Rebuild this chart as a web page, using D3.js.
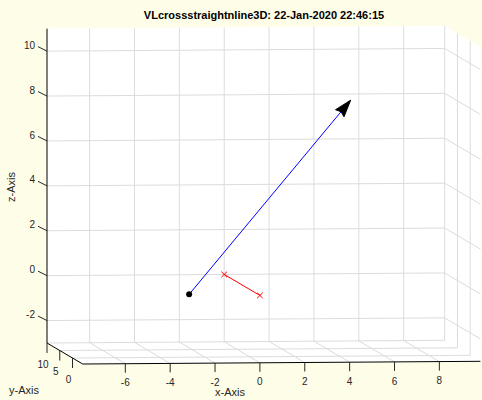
<!DOCTYPE html>
<html>
<head>
<meta charset="utf-8">
<script src="https://cdn.jsdelivr.net/npm/d3@7"></script>
<style>
  body { margin: 0; background: #fefde8; }
  text { font-family: "Liberation Sans", Arial, sans-serif; fill: #262626; }
</style>
</head>
<body>
<div id="chart"></div>
<script>
// axis limits and ticks
const xLim = [-7.9, 9.83];
const yLim = [-4, 10];
const zLim = [-3, 11];
const xTicks = [-6, -4, -2, 0, 2, 4, 6, 8];
const xTickLabels = ["-6", "-4", "-2", "0", "2", "4", "6", "8"];
const yTicks = [0, 5, 10];
const yTickLabels = ["0", "5", "10"];
const zTicks = [-2, 0, 2, 4, 6, 8, 10];
const zTickLabels = ["-2", "0", "2", "4", "6", "8", "10"];

// data (x, y, z)
const vecStart = [-2.7, 0, -0.2];
const vecEnd = [4.5, 0, 8.4];
const linePoints = [[0, 10, 0], [0, -4, 0]];

const width = 482, height = 400;

const svg = d3.select("#chart")
  .append("svg")
  .attr("width", width)
  .attr("height", height);

// simple orthographic view, built from linear scales
const sx = d3.scaleLinear().domain(xLim).range([47, 444.7]);
const sz = d3.scaleLinear().domain(zLim).range([343, 28.7]);
const tilt = d3.scaleLinear().domain(xLim).range([0, -2.7]);
const depth = d3.scaleLinear().domain([yLim[1], yLim[0]]).range([0, 1]);
const depthX = 35.7, depthY = 21;

function proj(p) {
  const t = depth(p[1]);
  return [sx(p[0]) + depthX * t, sz(p[2]) + depthY * t + tilt(p[0])];
}

const [x0, x1] = xLim, [y0, y1] = yLim, [z0, z1] = zLim;

// white panes: back wall, floor, right wall
const panes = [
  [[x0, y1, z0], [x1, y1, z0], [x1, y1, z1], [x0, y1, z1]],
  [[x0, y1, z0], [x1, y1, z0], [x1, y0, z0], [x0, y0, z0]],
  [[x1, y1, z0], [x1, y0, z0], [x1, y0, z1], [x1, y1, z1]]
];
svg.selectAll(".pane")
  .data(panes)
  .enter()
  .append("path")
  .attr("d", d => d3.line()(d.map(proj)) + "Z")
  .attr("fill", "white")
  .attr("stroke", "white")
  .attr("stroke-width", 0.5);

// grid lines
const grid = [];
xTicks.forEach(x => {
  grid.push([[x, y1, z0], [x, y1, z1]]);
  grid.push([[x, y1, z0], [x, y0, z0]]);
});
zTicks.forEach(z => {
  grid.push([[x0, y1, z], [x1, y1, z]]);
  grid.push([[x1, y1, z], [x1, y0, z]]);
});
yTicks.forEach(y => {
  grid.push([[x0, y, z0], [x1, y, z0]]);
  grid.push([[x1, y, z0], [x1, y, z1]]);
});
svg.selectAll(".grid")
  .data(grid)
  .enter()
  .append("path")
  .attr("d", d => d3.line()(d.map(proj)))
  .attr("stroke", "#dcdcdc")
  .attr("stroke-width", 1)
  .attr("fill", "none");

// axis lines
const axes = [
  [[x0, y1, z0], [x0, y1, z1]],
  [[x0, y1, z0], [x0, y0, z0]],
  [[x0, y0, z0], [x1, y0, z0]]
];
svg.selectAll(".axis")
  .data(axes)
  .enter()
  .append("path")
  .attr("d", d => d3.line()(d.map(proj)))
  .attr("stroke", "black")
  .attr("stroke-width", 1)
  .attr("fill", "none");

// z ticks
zTicks.forEach((z, i) => {
  const p = proj([x0, y1, z]);
  svg.append("line")
    .attr("x1", p[0]).attr("y1", p[1])
    .attr("x2", p[0] - 9).attr("y2", p[1] - 4.5)
    .attr("stroke", "#262626");
  svg.append("text")
    .attr("x", p[0] - 12).attr("y", p[1] - 5)
    .attr("text-anchor", "end")
    .attr("dominant-baseline", "middle")
    .style("font-size", "10px")
    .text(zTickLabels[i]);
});

// y ticks
yTicks.forEach((y, i) => {
  const p = proj([x0, y, z0]);
  svg.append("line")
    .attr("x1", p[0]).attr("y1", p[1])
    .attr("x2", p[0]).attr("y2", p[1] + 10)
    .attr("stroke", "#262626");
  svg.append("text")
    .attr("x", p[0] - 4).attr("y", p[1] + 22)
    .attr("text-anchor", "middle")
    .attr("dominant-baseline", "middle")
    .style("font-size", "10px")
    .text(yTickLabels[i]);
});

// x ticks
xTicks.forEach((x, i) => {
  const p = proj([x, y0, z0]);
  svg.append("line")
    .attr("x1", p[0]).attr("y1", p[1])
    .attr("x2", p[0]).attr("y2", p[1] + 9)
    .attr("stroke", "#262626");
  svg.append("text")
    .attr("x", p[0]).attr("y", p[1] + 20)
    .attr("text-anchor", "middle")
    .attr("dominant-baseline", "middle")
    .style("font-size", "10px")
    .text(xTickLabels[i]);
});

// axis labels + title
svg.append("text")
  .attr("x", 230).attr("y", 393)
  .attr("text-anchor", "middle").attr("dominant-baseline", "middle")
  .style("font-size", "11px")
  .text("x-Axis");
svg.append("text")
  .attr("x", 24).attr("y", 391)
  .attr("text-anchor", "middle").attr("dominant-baseline", "middle")
  .style("font-size", "11px")
  .text("y-Axis");
svg.append("text")
  .attr("transform", "translate(12,187) rotate(-90)")
  .attr("text-anchor", "middle").attr("dominant-baseline", "middle")
  .style("font-size", "11px")
  .text("z-Axis");
svg.append("text")
  .attr("x", 264).attr("y", 16)
  .attr("text-anchor", "middle").attr("dominant-baseline", "middle")
  .style("font-size", "11px")
  .style("font-weight", "bold")
  .style("fill", "black")
  .text("VLcrossstraightnline3D: 22-Jan-2020 22:46:15");

// red straight line with x markers
const redPts = linePoints.map(proj);
svg.append("path")
  .attr("d", d3.line()(redPts))
  .attr("stroke", "#ff0000")
  .attr("stroke-width", 1)
  .attr("fill", "none");
svg.selectAll(".xmark")
  .data(redPts)
  .enter()
  .append("path")
  .attr("d", d => {
    const s = 2.8;
    return `M${d[0] - s},${d[1] - s}L${d[0] + s},${d[1] + s}M${d[0] - s},${d[1] + s}L${d[0] + s},${d[1] - s}`;
  })
  .attr("stroke", "#ff0000")
  .attr("stroke-width", 1);

// blue vector with arrow head
const s = proj(vecStart), e = proj(vecEnd);
svg.append("path")
  .attr("d", d3.line()([s, e]))
  .attr("stroke", "#0000ff")
  .attr("stroke-width", 1)
  .attr("fill", "none");

const len = Math.hypot(e[0] - s[0], e[1] - s[1]);
const dx = (e[0] - s[0]) / len, dy = (e[1] - s[1]) / len;
const nx = -dy, ny = dx;
const L = 17, W = 5.5, notch = 15;
const head = [
  e,
  [e[0] - L * dx + W * nx, e[1] - L * dy + W * ny],
  [e[0] - notch * dx, e[1] - notch * dy],
  [e[0] - L * dx - W * nx, e[1] - L * dy - W * ny]
];
svg.append("path")
  .attr("d", d3.line()(head) + "Z")
  .attr("fill", "black")
  .attr("stroke", "black")
  .attr("stroke-width", 1)
  .attr("stroke-linejoin", "round");

svg.append("circle")
  .attr("cx", s[0]).attr("cy", s[1])
  .attr("r", 3)
  .attr("fill", "black");
</script>
</body>
</html>
